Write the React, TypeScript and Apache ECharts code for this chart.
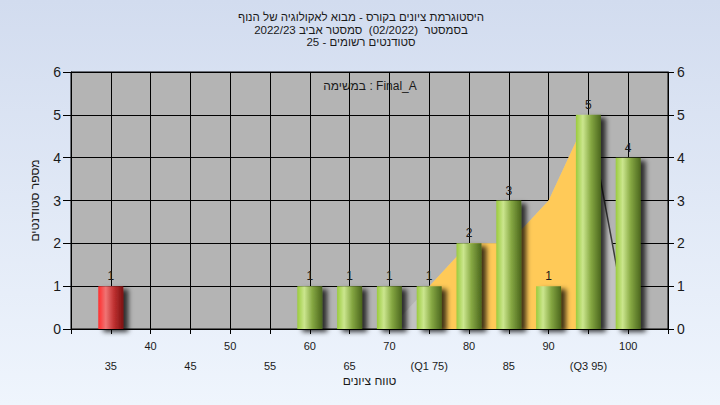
import { useEffect, useRef } from "react";
import * as echarts from "echarts";

// Grade bins (lower bound of each 5-point range) and number of students in each
const gradeBins = [35, 40, 45, 50, 55, 60, 65, 70, 75, 80, 85, 90, 95, 100];
const studentCounts = [1, 0, 0, 0, 0, 1, 1, 1, 1, 2, 3, 1, 5, 4];
const binLabels = ["35", "40", "45", "50", "55", "60", "65", "70", "(Q1 75)", "80", "85", "90", "(Q3 95)", "100"];
const failingBins = [35];

// Distribution outline behind the bars, and the quartile range
const spreadX = [70, 75, 80, 85, 90, 95, 100];
const spreadY = [0, 1, 2, 2, 3, 5, 0];
const q1 = 75;
const q3 = 95;

const titleLines = [
  "היסטוגרמת ציונים בקורס - מבוא לאקולוגיה של הנוף",
  "בסמסטר  (02/2022)  סמסטר אביב 2022/23",
  "סטודנטים רשומים - 25",
];
const taskLabel = "במשימה : Final_A";
const xTitle = "טווח ציונים";
const yTitle = "מספר סטודנטים";

const FONT = '"Liberation Sans", "DejaVu Sans", Arial, sans-serif';
const INK = "#1a1a1a";

const greenFill = new echarts.graphic.LinearGradient(0, 0, 1, 0, [
  { offset: 0, color: "#9bcb3e" },
  { offset: 0.28, color: "#cbe68e" },
  { offset: 0.6, color: "#86a843" },
  { offset: 1, color: "#4b661d" },
]);
const redFill = new echarts.graphic.LinearGradient(0, 0, 1, 0, [
  { offset: 0, color: "#ff2e2e" },
  { offset: 0.3, color: "#ef7474" },
  { offset: 0.62, color: "#c03232" },
  { offset: 1, color: "#7c1010" },
]);

function buildOption() {
  const barData = gradeBins
    .map((g, i) => ({ g, v: studentCounts[i] }))
    .filter((d) => d.v > 0)
    .map((d) => ({
      value: [d.g, d.v],
      itemStyle: { color: failingBins.includes(d.g) ? redFill : greenFill },
    }));

  const spread = spreadX.map((x, i) => [x, spreadY[i]]);
  const quartileBand = spread.filter(([x]) => x >= q1 && x <= q3);
  const tailEdge = spread.filter(([x]) => x >= q3);

  const labelFor = (row: number) => (val: number) => {
    const i = gradeBins.indexOf(val);
    if (i < 0 || i % 2 !== row) return "";
    return binLabels[i];
  };

  const xBase = {
    type: "value" as const,
    min: 30,
    max: 105,
    interval: 5,
    gridIndex: 0,
    position: "bottom" as const,
  };

  return {
    animation: false,
    backgroundColor: new echarts.graphic.LinearGradient(0, 0, 0, 1, [
      { offset: 0, color: "#d2dcef" },
      { offset: 1, color: "#eff5fd" },
    ]),
    textStyle: { fontFamily: FONT },
    grid: {
      left: 71,
      right: 52,
      top: 72,
      bottom: 76,
      show: true,
      backgroundColor: "#b4b4b4",
      borderColor: "#000",
      borderWidth: 1,
    },
    graphic: [
      ...titleLines.map((t, i) => ({
        type: "text",
        x: 361,
        y: 17 + i * 12.5,
        style: {
          text: t,
          fontFamily: FONT,
          fontSize: 11.5,
          fill: INK,
          align: "center",
          verticalAlign: "middle",
        },
      })),
      {
        type: "text",
        x: 370,
        y: 86,
        z: 10,
        style: {
          text: taskLabel,
          fontFamily: FONT,
          fontSize: 12,
          fill: INK,
          align: "center",
          verticalAlign: "middle",
        },
      },
    ],
    xAxis: [
      {
        ...xBase,
        axisLine: { show: true, lineStyle: { color: "#000", width: 1 } },
        axisTick: { show: true, length: 5, lineStyle: { color: "#000" } },
        splitLine: { show: true, lineStyle: { color: "#000", width: 1 } },
        axisLabel: {
          margin: 11,
          fontSize: 11,
          color: INK,
          fontFamily: FONT,
          formatter: labelFor(1),
        },
        name: xTitle,
        nameLocation: "middle",
        nameGap: 46,
        nameTextStyle: { fontSize: 12, color: INK, fontFamily: FONT },
      },
      {
        ...xBase,
        axisLine: { show: false },
        axisTick: { show: false },
        splitLine: { show: false },
        axisLabel: {
          margin: 31,
          fontSize: 11,
          color: INK,
          fontFamily: FONT,
          formatter: labelFor(0),
        },
      },
    ],
    yAxis: [
      {
        type: "value",
        min: 0,
        max: 6,
        interval: 1,
        position: "left",
        axisLine: { show: true, lineStyle: { color: "#000" } },
        axisTick: { show: true, length: 8, lineStyle: { color: "#000" } },
        splitLine: { show: true, lineStyle: { color: "#000", width: 1 } },
        axisLabel: { margin: 10, fontSize: 14, color: INK, fontFamily: FONT },
        name: yTitle,
        nameLocation: "middle",
        nameGap: 30,
        nameRotate: 90,
        nameTextStyle: { fontSize: 12, color: INK, fontFamily: FONT },
      },
      {
        type: "value",
        min: 0,
        max: 6,
        interval: 1,
        position: "right",
        axisLine: { show: true, lineStyle: { color: "#000" } },
        axisTick: { show: true, length: 6, lineStyle: { color: "#000" } },
        splitLine: { show: false },
        axisLabel: { margin: 9, fontSize: 14, color: INK, fontFamily: FONT },
      },
    ],
    series: [
      {
        type: "line",
        xAxisIndex: 0,
        yAxisIndex: 0,
        data: spread,
        symbol: "none",
        lineStyle: { opacity: 0 },
        areaStyle: { color: "#c2c2c2", opacity: 1 },
        z: 1,
        silent: true,
      },
      {
        type: "line",
        xAxisIndex: 0,
        yAxisIndex: 0,
        data: quartileBand,
        symbol: "none",
        lineStyle: { opacity: 0 },
        areaStyle: { color: "#ffca58", opacity: 1 },
        z: 2,
        silent: true,
      },
      {
        type: "line",
        xAxisIndex: 0,
        yAxisIndex: 0,
        data: tailEdge,
        symbol: "none",
        lineStyle: { color: "#3a3a3a", width: 1.5 },
        z: 3,
        silent: true,
      },
      {
        type: "bar",
        xAxisIndex: 0,
        yAxisIndex: 0,
        data: barData,
        barWidth: 25,
        z: 4,
        itemStyle: {
          shadowColor: "rgba(0,0,0,0.75)",
          shadowBlur: 5,
          shadowOffsetX: 5,
          shadowOffsetY: 3,
        },
        label: {
          show: true,
          position: "top",
          distance: 4,
          fontSize: 12,
          color: INK,
          fontFamily: FONT,
          formatter: (p: any) => String(p.value[1]),
        },
      },
    ],
  };
}

export default function App() {
  const ref = useRef<HTMLDivElement>(null);
  useEffect(() => {
    if (!ref.current) return;
    const chart = echarts.init(ref.current, null, { renderer: "svg" });
    chart.setOption(buildOption() as any);
    return () => chart.dispose();
  }, []);
  return (
    <div
      ref={ref}
      style={{ position: "fixed", left: 0, top: 0, width: 720, height: 405 }}
    />
  );
}
